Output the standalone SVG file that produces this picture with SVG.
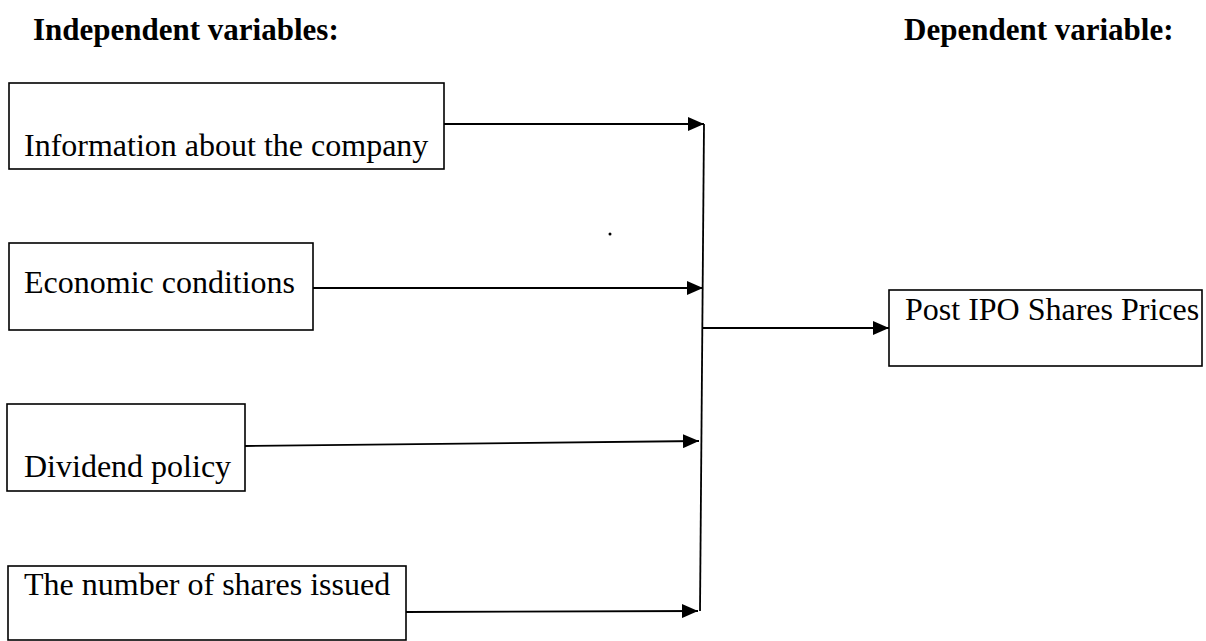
<svg xmlns="http://www.w3.org/2000/svg" width="1206" height="641" viewBox="0 0 1206 641">
<style>
.box{fill:#fff;stroke:#000;stroke-width:1.6}
.t{font-family:"Liberation Serif","Times New Roman",serif;font-size:32px;fill:#000}
.h{font-family:"Liberation Serif","Times New Roman",serif;font-size:31px;font-weight:bold;fill:#000}
.c{stroke:#000;stroke-width:1.8;fill:none}
</style>
<defs>
<marker id="arrB" markerWidth="16" markerHeight="14" refX="16" refY="7" viewBox="0 0 16 14" markerUnits="userSpaceOnUse" orient="auto">
<path d="M0,0 L16,7 L0,14 z" fill="#000"/>
</marker>
</defs>
<text class="h" x="33" y="40">Independent variables:</text>
<text class="h" x="904" y="40">Dependent variable:</text>
<g id="n1"><rect class="box" x="9" y="83" width="435" height="86"/><text class="t" x="24" y="156">Information about the company</text></g>
<g id="n2"><rect class="box" x="9" y="243" width="304" height="87"/><text class="t" x="24" y="293">Economic conditions</text></g>
<g id="n3"><rect class="box" x="7" y="404" width="238" height="87"/><text class="t" x="24" y="477">Dividend policy</text></g>
<g id="n4"><rect class="box" x="8" y="566" width="398" height="74"/><text class="t" x="24" y="595">The number of shares issued</text></g>
<g id="n5"><rect class="box" x="889" y="290" width="313" height="76"/><text class="t" x="905" y="320">Post IPO Shares Prices</text></g>
<g id="connectors">
<line class="c" x1="444" y1="124" x2="704" y2="124" marker-end="url(#arrB)"/>
<line class="c" x1="313" y1="288" x2="703" y2="288" marker-end="url(#arrB)"/>
<line class="c" x1="245" y1="446" x2="699" y2="441" marker-end="url(#arrB)"/>
<line class="c" x1="406" y1="612" x2="698" y2="611" marker-end="url(#arrB)"/>
<line class="c" x1="704" y1="124" x2="700" y2="611"/>
<line class="c" x1="703" y1="328" x2="889" y2="328" marker-end="url(#arrB)"/>
</g>
<circle cx="610" cy="234" r="1.5" fill="#000"/>
</svg>
